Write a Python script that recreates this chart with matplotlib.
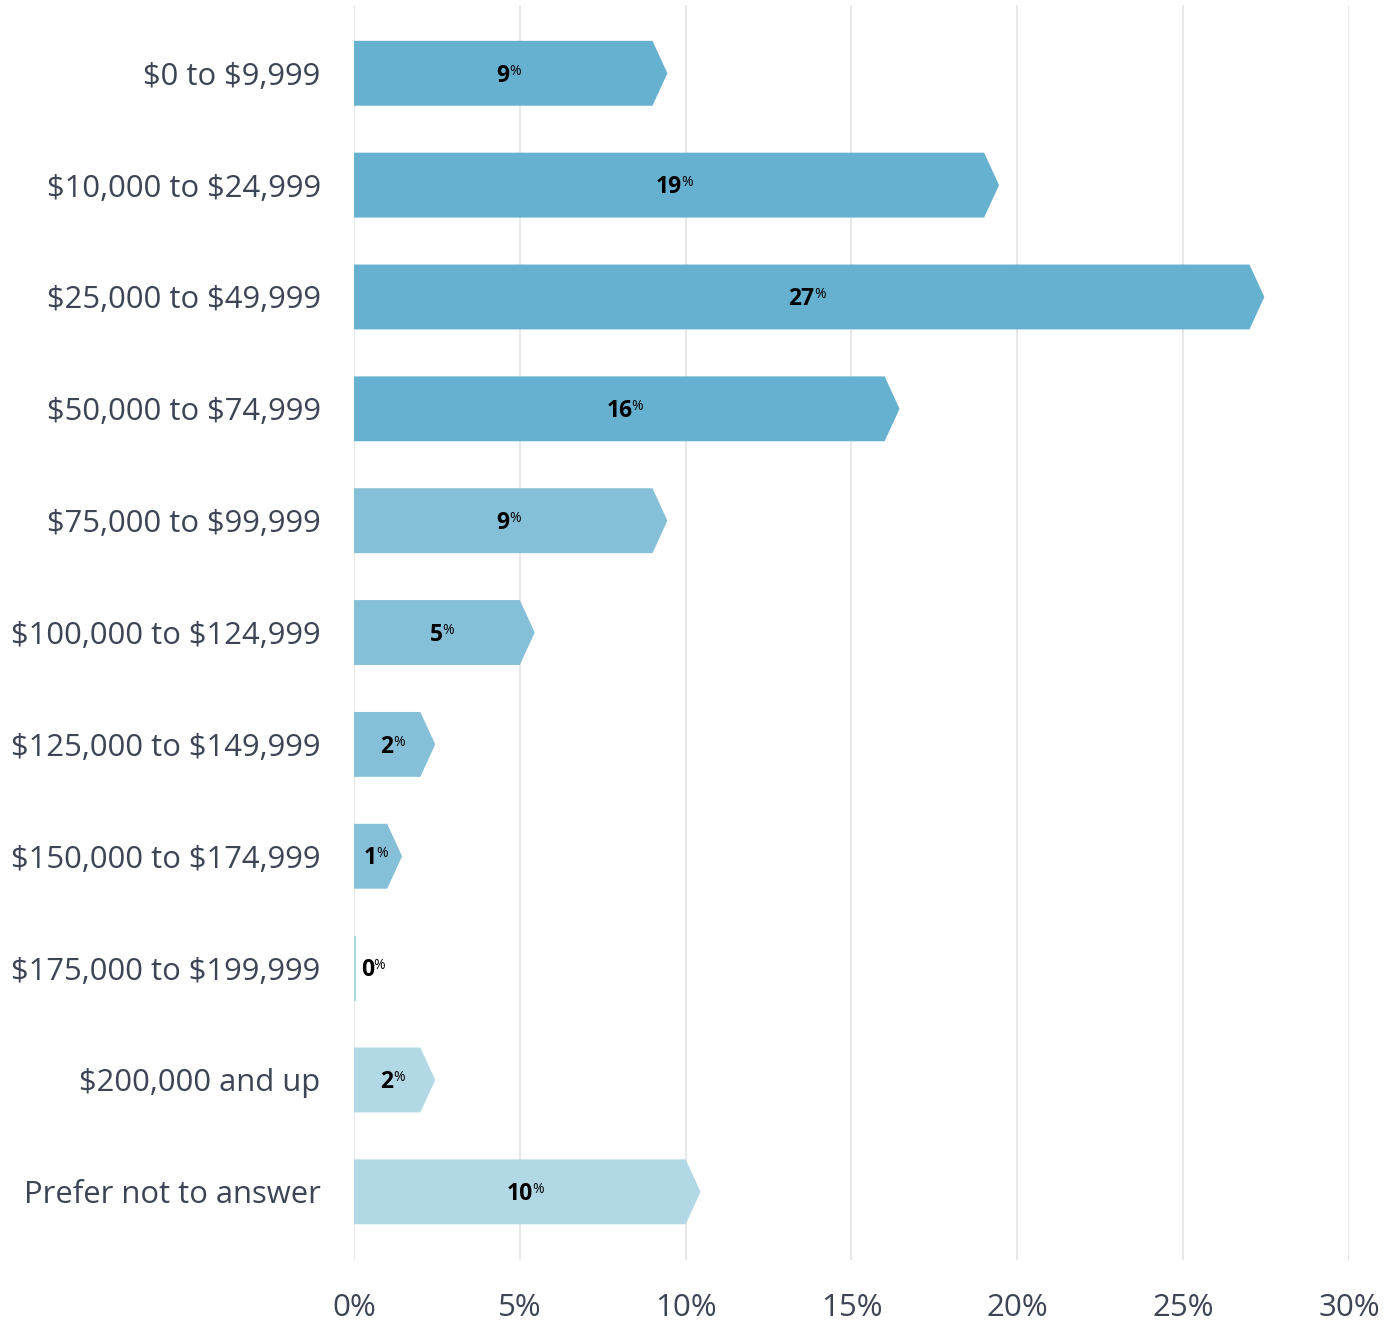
import matplotlib
matplotlib.use('Agg')
import matplotlib.pyplot as plt
from matplotlib.patches import Polygon

plt.rcParams['font.family'] = ['Open Sans', 'DejaVu Sans']
plt.rcParams['text.parse_math'] = False

categories = ['$0 to $9,999', '$10,000 to $24,999', '$25,000 to $49,999',
              '$50,000 to $74,999', '$75,000 to $99,999', '$100,000 to $124,999',
              '$125,000 to $149,999', '$150,000 to $174,999', '$175,000 to $199,999',
              '$200,000 and up', 'Prefer not to answer']
values = [9, 19, 27, 16, 9, 5, 2, 1, 0, 2, 10]
bar_colors = ['#67b1d0', '#67b1d0', '#67b1d0', '#67b1d0',
              '#86bfd8', '#86bfd8', '#86bfd8', '#86bfd8',
              '#a9d5e5', '#b2d8e6', '#b2d8e6']
xticks = [0, 5, 10, 15, 20, 25, 30]
xtick_labels = ['0%', '5%', '10%', '15%', '20%', '25%', '30%']

fig = plt.figure(figsize=(13.97, 13.24), dpi=100)
ax = fig.add_axes([0.2534, 0.0483, 0.7122, 0.9479])

h = 0.58      # bar thickness (category units)
tip = 0.45    # chevron point length (percent units)

for i, (v, c) in enumerate(zip(values, bar_colors)):
    top, bot = i - h / 2, i + h / 2
    if v == 0:
        pts = [(0, top), (0.06, top), (0.06, bot), (0, bot)]
    else:
        pts = [(0, top), (v, top), (v + tip, i), (v, bot), (0, bot)]
    ax.add_patch(Polygon(pts, closed=True, facecolor=c, edgecolor='none', zorder=2))

    xc = v / 2 if v > 0 else 0.4
    num = ax.text(xc, i + 0.02, str(v), ha='center', va='center', fontsize=16.5,
                  fontweight='bold', color='black', zorder=3)
    ax.annotate('%', xy=(1, 1), xycoords=num, xytext=(-0.5, 0), textcoords='offset points',
                ha='left', va='top', fontsize=10, color='black', zorder=3)

ax.set_xlim(0, 30)
ax.set_ylim(len(categories) - 1 + 0.61, -0.61)
ax.set_yticks(range(len(categories)))
ax.set_yticklabels(categories, fontsize=22.3, color='#3d4554')
ax.set_xticks(xticks)
ax.set_xticklabels(xtick_labels, fontsize=22.5, color='#3d4554')
ax.tick_params(axis='both', length=0)
ax.tick_params(axis='y', pad=24)
ax.tick_params(axis='x', pad=24)
for s in ax.spines.values():
    s.set_visible(False)
ax.grid(axis='x', color='#e8e8e8', linewidth=1.5, zorder=0)
ax.set_axisbelow(True)

fig.savefig('out.png', dpi=100, facecolor='white')
